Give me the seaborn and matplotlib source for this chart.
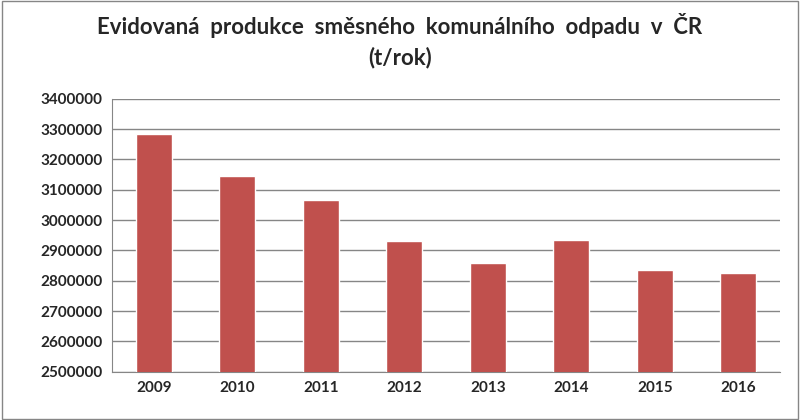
import matplotlib
matplotlib.use("Agg")
import matplotlib.pyplot as plt
import seaborn as sns
import pandas as pd

years = ["2009", "2010", "2011", "2012", "2013", "2014", "2015", "2016"]
values = [3285000, 3144000, 3065000, 2930000, 2858000, 2934000, 2835000, 2825000]
yticks = list(range(2500000, 3400001, 100000))

sns.set_style("white")
plt.rcParams['font.family'] = ['Lato', 'DejaVu Sans']

df = pd.DataFrame({"year": years, "value": values})
fig = plt.figure(figsize=(8, 4.2), dpi=100)
ax = fig.add_axes([0.14, 0.115, 0.835, 0.65])
sns.barplot(data=df, x="year", y="value", color="#C0504D", width=0.43, ax=ax, zorder=3, saturation=1)
ax.set_ylim(2500000, 3400000)
ax.set_yticks(yticks)
ax.set_yticklabels([str(v) for v in yticks], fontsize=11, fontweight="bold")
for l in ax.get_xticklabels():
    l.set_fontsize(11); l.set_fontweight("bold")
ax.yaxis.grid(True, color="#868686", linewidth=1, zorder=0)
ax.set_xlabel(""); ax.set_ylabel("")
for s in ["top", "right"]:
    ax.spines[s].set_visible(False)
for s in ["left", "bottom"]:
    ax.spines[s].set_color("#868686")
ax.tick_params(axis="both", length=4, color="#868686", pad=3)
ax.tick_params(axis="y", direction="out")
fig.suptitle("Evidovaná  produkce  směsného  komunálního  odpadu  v  ČR\n(t/rok)",
             fontsize=16, fontweight="bold", y=0.97, linespacing=1.5)
fig.patches.append(plt.Rectangle((0.002, 0.003), 0.996, 0.994, transform=fig.transFigure,
                                 fill=False, edgecolor="#868686", linewidth=1))
fig.savefig("out.png", dpi=100)
